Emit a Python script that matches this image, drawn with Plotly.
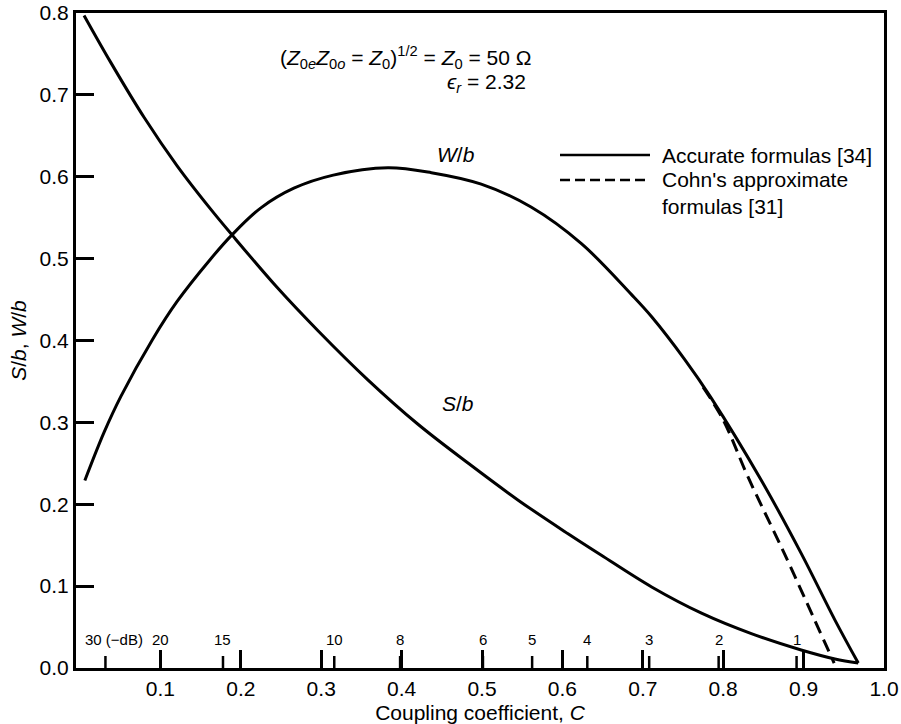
import plotly.graph_objects as go

# Coupling coefficient C vs normalized strip spacing S/b and width W/b
# for edge-coupled stripline, Z0 = 50 ohm, er = 2.32

sb_c = [0.005, 0.038, 0.080, 0.121, 0.162, 0.189, 0.245, 0.296, 0.358, 0.420,
        0.483, 0.545, 0.607, 0.648, 0.711, 0.773, 0.835, 0.897, 0.939, 0.968]
sb_val = [0.797, 0.740, 0.672, 0.613, 0.561, 0.529, 0.465, 0.412, 0.352, 0.298,
          0.250, 0.205, 0.164, 0.138, 0.099, 0.067, 0.042, 0.022, 0.011, 0.006]

wb_c = [0.006, 0.030, 0.051, 0.090, 0.121, 0.162, 0.189, 0.225, 0.266, 0.315,
        0.383, 0.437, 0.499, 0.561, 0.624, 0.686, 0.711, 0.752, 0.785, 0.847,
        0.897, 0.939, 0.968]
wb_val = [0.229, 0.288, 0.332, 0.401, 0.448, 0.499, 0.529, 0.562, 0.586, 0.602,
          0.611, 0.605, 0.591, 0.563, 0.518, 0.456, 0.429, 0.377, 0.330, 0.230,
          0.140, 0.0585, 0.006]

# Cohn's approximate W/b, where it departs from the accurate curve
cohn_c = [0.775, 0.800, 0.831, 0.876, 0.914, 0.938]
cohn_val = [0.343, 0.303, 0.233, 0.140, 0.058, 0.006]

# Coupling in dB marked along the C axis
db_marks = [30, 20, 15, 10, 8, 6, 5, 4, 3, 2, 1]

x_ticks = [0.1, 0.2, 0.3, 0.4, 0.5, 0.6, 0.7, 0.8, 0.9, 1.0]
y_ticks = [0.0, 0.1, 0.2, 0.3, 0.4, 0.5, 0.6, 0.7, 0.8]

FONT = "Liberation Sans, Arial, Helvetica, sans-serif"
FS = 21
W, H = 901, 724
ML, MR, MT, MB = 76, 17, 13, 56
PW, PH = W - ML - MR, H - MT - MB


def px(xp):
    return (xp - ML) / PW


def py(yp):
    return (H - MB - yp) / PH


def txt(size=FS):
    return dict(size=size, family=FONT, color="black")


fig = go.Figure()

line_style = dict(color="black", width=3, shape="spline", smoothing=1.0)
fig.add_trace(go.Scatter(x=sb_c, y=sb_val, mode="lines", line=line_style,
                         showlegend=False, hoverinfo="skip"))
fig.add_trace(go.Scatter(x=wb_c, y=wb_val, mode="lines", line=line_style,
                         showlegend=False, hoverinfo="skip"))
fig.add_trace(go.Scatter(x=cohn_c, y=cohn_val, mode="lines",
                         line=dict(color="black", width=3, dash="13px,7px",
                                   shape="spline", smoothing=1.0),
                         showlegend=False, hoverinfo="skip"))

shapes = []
annotations = []

# dB ticks and labels on the C axis
for db in db_marks:
    c = 10 ** (-db / 20)
    shapes.append(dict(type="line", xref="x", yref="y", ysizemode="pixel",
                       yanchor=0, x0=c, x1=c, y0=0, y1=12,
                       line=dict(color="black", width=2.5)))
    if db == 30:
        annotations.append(dict(x=0.004, y=0, xref="x", yref="y",
                                text="30 (\u2212dB)", showarrow=False,
                                xanchor="left", yanchor="middle", yshift=29,
                                font=txt(15)))
    else:
        annotations.append(dict(x=c, y=0, xref="x", yref="y", text=str(db),
                                showarrow=False, xanchor="center",
                                yanchor="middle", yshift=29, font=txt(15)))

# curve labels
annotations.append(dict(x=0.468, y=0.627, xref="x", yref="y",
                        text="<i>W</i>/<i>b</i>", showarrow=False, font=txt()))
annotations.append(dict(x=0.470, y=0.323, xref="x", yref="y",
                        text="<i>S</i>/<i>b</i>", showarrow=False, font=txt()))

# condition text
annotations.append(dict(
    x=px(533), y=py(57), xref="paper", yref="paper", xanchor="right",
    yanchor="middle", showarrow=False,
    text="(<i>Z</i><sub>0<i>e</i></sub><i>Z</i><sub>0<i>o</i></sub> = "
         "<i>Z</i><sub>0</sub>)<sup>1/2</sup> = <i>Z</i><sub>0</sub> = 50 \u03a9",
    font=txt()))
annotations.append(dict(
    x=px(528), y=py(83), xref="paper", yref="paper", xanchor="right",
    yanchor="middle", showarrow=False,
    text="<i>\u03f5<sub>r</sub></i> = 2.32", font=txt()))

# key
shapes.append(dict(type="line", xref="paper", yref="paper",
                   x0=px(560), x1=px(650), y0=py(155), y1=py(155),
                   line=dict(color="black", width=2.5)))
shapes.append(dict(type="line", xref="paper", yref="paper",
                   x0=px(560), x1=px(650), y0=py(180), y1=py(180),
                   line=dict(color="black", width=2.5, dash="10px,5px")))
annotations.append(dict(x=px(660), y=py(155), xref="paper", yref="paper",
                        xanchor="left", yanchor="middle", showarrow=False,
                        text="Accurate formulas [34]", font=txt()))
annotations.append(dict(x=px(660), y=py(193), xref="paper", yref="paper",
                        xanchor="left", yanchor="middle", showarrow=False,
                        align="left",
                        text="Cohn's approximate<br>formulas [31]", font=txt()))

fig.update_layout(
    width=W, height=H,
    margin=dict(l=ML, r=MR, t=MT, b=MB, pad=0),
    paper_bgcolor="white", plot_bgcolor="white",
    font=dict(family=FONT, color="black"),
    shapes=shapes, annotations=annotations,
    xaxis=dict(range=[-0.005, 1.0], tickvals=x_ticks,
               ticktext=[f"{v:.1f}" for v in x_ticks],
               ticks="inside", ticklen=18, tickwidth=2.5, tickcolor="black",
               showline=True, linewidth=3, linecolor="black", mirror=True,
               showgrid=False, zeroline=False, automargin=False,
               tickfont=txt(),
               title=dict(text="Coupling coefficient, <i>C</i>", standoff=10,
                          font=txt())),
    yaxis=dict(range=[0, 0.8], tickvals=y_ticks,
               ticktext=[f"{v:.1f}" for v in y_ticks],
               ticks="inside", ticklen=18, tickwidth=2.5, tickcolor="black",
               showline=True, linewidth=3, linecolor="black", mirror=True,
               showgrid=False, zeroline=False, automargin=False,
               tickfont=txt(),
               title=dict(text="<i>S</i>/<i>b</i>, <i>W</i>/<i>b</i>", standoff=8,
                          font=txt())),
)

fig.write_html("out.html")
